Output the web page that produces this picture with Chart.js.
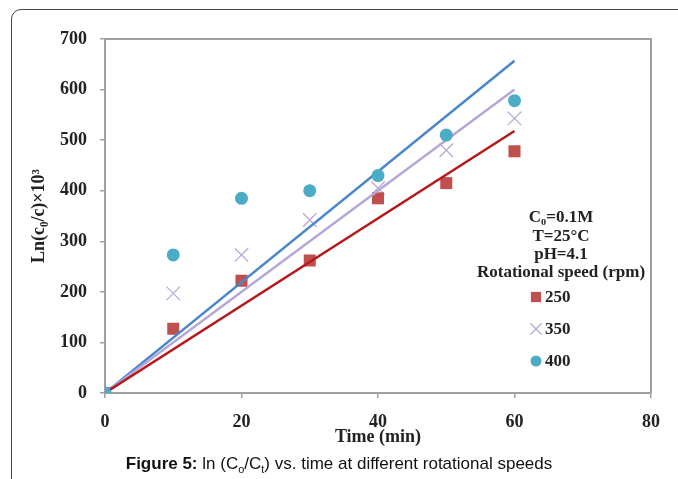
<!DOCTYPE html>
<html lang="en">
<head>
    <meta charset="UTF-8">
    <title>ln(Co/Ct) vs time</title>
    <script src="https://cdn.jsdelivr.net/npm/chart.js"></script>
    <style>
        body { margin: 0; width: 678px; height: 479px; overflow: hidden; background: #fff; position: relative; }
        #frame { position: absolute; left: 11px; top: 9px; width: 720px; height: 520px; border: 1px solid #444; border-radius: 10px; }
        #wrap { position: absolute; left: 0; top: 0; width: 678px; height: 479px; }
        #caption { position: absolute; left: 0; width: 678px; top: 454px; text-align: center; font-family: "Liberation Sans", Arial, sans-serif; font-size: 17px; color: #111; }
        #caption sub { font-size: 11px; }
    </style>
</head>
<body>
    <div id="frame"></div>
    <div id="wrap"><canvas id="kinetics"></canvas></div>
    <div id="caption"><b>Figure 5:</b> ln (C<sub>o</sub>/C<sub>t</sub>) vs. time at different rotational speeds</div>

    <script>
        // time (min) and ln(c0/c) x 10^3
        const times = [0, 10, 20, 30, 40, 50, 60];
        const rpm250 = [0, 127, 222, 262, 385, 415, 478];
        const rpm350 = [0, 197, 273, 342, 405, 480, 543];
        const rpm400 = [0, 273, 385, 400, 430, 510, 578];

        // linear fits through the origin, value at t = 60
        const fitTimes = [0, 60];
        const fit250 = [0, 518];
        const fit350 = [0, 600];
        const fit400 = [0, 657];

        const legendLabels = ['250', '350', '400'];
        const noteLines = ['C\u2080=0.1M', 'T=25\u00b0C', 'pH=4.1', 'Rotational speed (rpm)'];

        const pts = (xs, ys) => xs.map((x, i) => ({ x: x, y: ys[i] }));
        const serif = '"Liberation Serif", "Times New Roman", serif';

        const red = '#c0504d', lilac = '#b9a9d4', teal = '#4bacc6';

        // frame around plot + text block + legend
        const extras = {
            id: 'extras',
            afterDatasetsDraw(chart) {
                const ctx = chart.ctx;
                const a = chart.chartArea;
                ctx.save();
                ctx.strokeStyle = '#a0a0a0';
                ctx.lineWidth = 2;
                ctx.beginPath();
                ctx.moveTo(a.left, a.top);
                ctx.lineTo(a.right, a.top);
                ctx.lineTo(a.right, a.bottom);
                ctx.stroke();

                ctx.fillStyle = '#222';
                ctx.font = 'bold 17px ' + serif;
                ctx.textAlign = 'center';
                ctx.textBaseline = 'middle';
                const ys = [218, 237, 255, 273];
                noteLines.forEach((t, i) => ctx.fillText(t, 561, ys[i]));

                const rows = [297, 329, 361];
                const sets = chart.data.datasets.slice(0, 3);
                sets.forEach((ds, i) => {
                    ctx.fillStyle = ds.backgroundColor;
                    ctx.strokeStyle = ds.borderColor;
                    ctx.lineWidth = ds.borderWidth;
                    Chart.helpers.drawPoint(ctx, {
                        pointStyle: ds.pointStyle,
                        radius: ds.pointRadius * 0.85,
                        borderWidth: ds.borderWidth
                    }, 536, rows[i]);
                    ctx.fillStyle = '#222';
                    ctx.textAlign = 'left';
                    ctx.fillText(legendLabels[i], 545, rows[i] + 1);
                });
                ctx.restore();
            }
        };

        const tickFont = { family: serif, size: 18, weight: 'bold' };

        const ctx = document.getElementById('kinetics').getContext('2d');
        new Chart(ctx, {
            type: 'scatter',
            data: {
                datasets: [
                    { label: '250', data: pts(times, rpm250), pointStyle: 'rect', pointRadius: 8.5,
                      backgroundColor: red, borderColor: red, borderWidth: 0, order: 2 },
                    { label: '350', data: pts(times, rpm350), pointStyle: 'crossRot', pointRadius: 9.5,
                      backgroundColor: lilac, borderColor: lilac, borderWidth: 1.3, order: 2 },
                    { label: '400', data: pts(times, rpm400), pointStyle: 'circle', pointRadius: 6.5,
                      backgroundColor: teal, borderColor: teal, borderWidth: 0, order: 0 },
                    { label: 'fit 250', type: 'line', data: pts(fitTimes, fit250), showLine: true,
                      pointRadius: 0, borderColor: '#b5191c', borderWidth: 2.5, order: 1 },
                    { label: 'fit 350', type: 'line', data: pts(fitTimes, fit350), showLine: true,
                      pointRadius: 0, borderColor: '#b6a6d8', borderWidth: 2.5, order: 1 },
                    { label: 'fit 400', type: 'line', data: pts(fitTimes, fit400), showLine: true,
                      pointRadius: 0, borderColor: '#4a86c8', borderWidth: 2.5, order: 1 }
                ]
            },
            options: {
                responsive: true,
                maintainAspectRatio: false,
                animation: false,
                layout: { padding: { left: 20, right: 27, top: 39, bottom: 31 } },
                plugins: { legend: { display: false }, tooltip: { enabled: false } },
                scales: {
                    x: {
                        type: 'linear', min: 0, max: 80,
                        border: { display: true, color: '#a0a0a0', width: 2 },
                        grid: { display: true, drawOnChartArea: false, tickLength: 5, color: '#a0a0a0', lineWidth: 1.5 },
                        ticks: { stepSize: 20, color: '#222', font: tickFont, padding: 14 },
                        title: { display: true, text: 'Time (min)', color: '#222', font: tickFont, padding: { top: 0, bottom: 0 } },
                        afterFit(s) { s.height = 55; }
                    },
                    y: {
                        type: 'linear', min: 0, max: 700,
                        border: { display: true, color: '#a0a0a0', width: 2 },
                        grid: { display: true, drawOnChartArea: false, tickLength: 5, color: '#a0a0a0', lineWidth: 1.5 },
                        ticks: { stepSize: 100, color: '#222', font: tickFont, padding: 13 },
                        title: { display: true, text: 'Ln(c\u2080/c)\u00d710\u00b3', color: '#222', font: tickFont, padding: { top: 9, bottom: 0 } },
                        afterFit(s) { s.width = 85; }
                    }
                }
            },
            plugins: [extras]
        });
    </script>
</body>
</html>
